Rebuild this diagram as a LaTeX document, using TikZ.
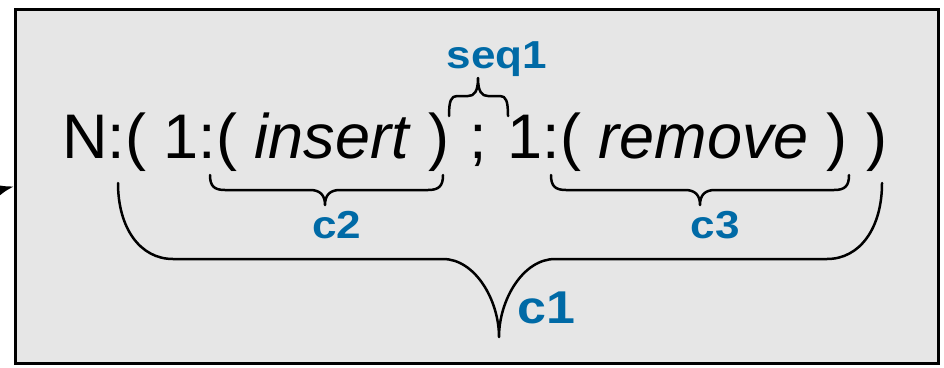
\documentclass[tikz,border=0pt]{standalone}
\usepackage{fontspec}
\setmainfont{Liberation Sans}
\usetikzlibrary{arrows.meta}
\definecolor{lblue}{RGB}{0,106,166}
\definecolor{boxgray}{RGB}{230,230,230}
\definecolor{shadowgray}{RGB}{120,120,120}
\begin{document}
\begin{tikzpicture}[x=1pt,y=-1pt,
  brace/.style={line width=2.5pt, line cap=round, line join=round},
  lbl/.style={text=lblue, font=\fontsize{39}{39}\selectfont\bfseries, inner sep=0pt, anchor=base, xscale=1.13},
  expr/.style={font=\fontsize{63}{63}\selectfont, inner sep=0pt, anchor=base west}]
\useasboundingbox (0,0) rectangle (944,367);
% shadow and box
\fill[shadowgray] (17,11) rectangle (940,365);
\node[draw=black, fill=boxgray, line width=2.8pt, minimum width=923pt, minimum height=354pt, inner sep=0pt, anchor=north west] (box) at (14,8) {};
% incoming arrow
\coordinate (ext) at (-70,207);
\draw[line width=2pt, -{Latex[length=16pt,width=11pt]}] (ext) -- (box.west);
% expression
\node[expr] (expr) at (62,158) {N:( 1:( \textit{insert} )\kern3pt{} ;\kern3pt{} 1:( \textit{remove} )\kern2pt{} )};
% c2 brace
\draw[brace] (210,175) .. controls (210,186) and (214,190) .. (225,190) -- (310,190)
  .. controls (320,190) and (325,195) .. (325,205)
  .. controls (325,195) and (330,190) .. (340,190) -- (428,190)
  .. controls (439,190) and (443,186) .. (443,175);
% c3 brace
\draw[brace] (551,175) .. controls (551,186) and (555,190) .. (566,190) -- (685,190)
  .. controls (695,190) and (700,195) .. (700,205)
  .. controls (700,195) and (705,190) .. (715,190) -- (834,190)
  .. controls (845,190) and (849,186) .. (849,175);
% c1 brace
\draw[brace] (118,183) .. controls (118,228) and (140,259) .. (173,259) -- (443,259)
  .. controls (475,259) and (499,300) .. (499,337)
  .. controls (499,300) and (523,259) .. (555,259) -- (827,259)
  .. controls (860,259) and (882,228) .. (882,183);
% seq1 brace (upward)
\draw[brace] (449,116) .. controls (449,101) and (451,96) .. (457,96) -- (468,96)
  .. controls (474,96) and (478,92) .. (478,78)
  .. controls (478,92) and (482,96) .. (488,96) -- (500,96)
  .. controls (506,96) and (508,101) .. (508,116);
% labels
\node[lbl] (seq1) at (497,68) {seq1};
\node[lbl] (c2) at (337,238) {c2};
\node[lbl] (c3) at (715,238) {c3};
\node[lbl, font=\fontsize{46}{46}\selectfont\bfseries, xscale=1] (c1) at (546,323) {c1};
\end{tikzpicture}
\end{document}
